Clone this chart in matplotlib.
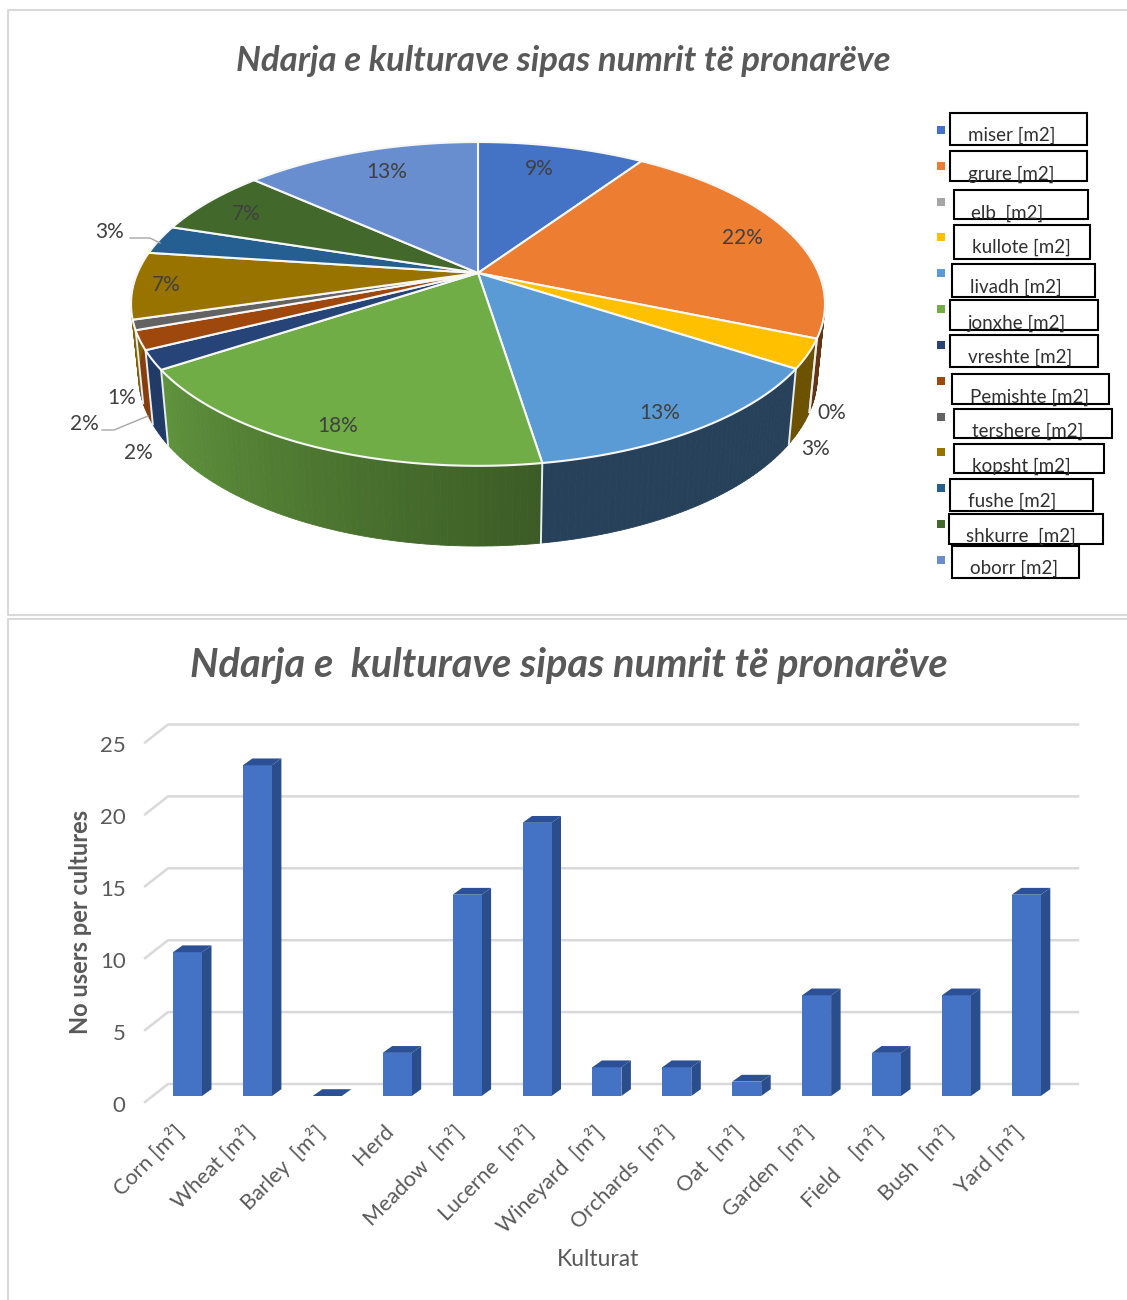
import numpy as np
import matplotlib
matplotlib.use('Agg')
import matplotlib.pyplot as plt
from matplotlib.patches import Rectangle
from matplotlib.transforms import ScaledTranslation

plt.rcParams['font.family'] = ['Lato', 'DejaVu Sans']

# top chart
pie_names = ['miser [m2]', 'grure [m2]', 'elb  [m2]', 'kullote [m2]', 'livadh [m2]', 'jonxhe [m2]', 'vreshte [m2]',
             'Pemishte [m2]', 'tershere [m2]', 'kopsht [m2]', 'fushe [m2]', 'shkurre  [m2]', 'oborr [m2]']
pie_values = [9.4, 22.0, 0.0, 2.9, 13.3, 18.1, 1.9, 1.9, 1.0, 6.7, 2.9, 6.7, 13.3]
pie_colors = ['#4472c4', '#ed7d31', '#a5a5a5', '#ffc000', '#5b9bd5', '#70ad47', '#264478',
              '#9e480e', '#636363', '#997300', '#255e91', '#43682b', '#698ed0']

# bottom chart
crops = ['Corn [m²]', 'Wheat [m²]', 'Barley  [m²]', 'Herd', 'Meadow  [m²]', 'Lucerne  [m²]', 'Wineyard  [m²]',
         'Orchards  [m²]', 'Oat  [m²]', 'Garden  [m²]', 'Field    [m²]', 'Bush  [m²]', 'Yard [m²]']
users = [10, 23, 0, 3, 14, 19, 2, 2, 1, 7, 3, 7, 14]
y_ticks = [0, 5, 10, 15, 20, 25]

# layout of the pie labels and the hand drawn legend boxes (pixels of the picture)
label_xy = [(539, 169), (742, 238), (832, 413), (816, 449), (660, 413), (338, 426), (138, 453),
            (84, 424), (122, 398), (166, 285), (110, 232), (246, 214), (387, 172)]
box_xy = [(950, 113, 1087, 145), (950, 151, 1087, 181), (954, 190, 1088, 219), (954, 225, 1090, 259),
          (952, 264, 1095, 297), (950, 300, 1098, 330), (950, 335, 1098, 367), (952, 374, 1109, 404),
          (954, 409, 1112, 438), (954, 444, 1104, 473), (950, 479, 1093, 511), (949, 514, 1103, 544),
          (952, 546, 1079, 578)]
text_xy = [(968, 141), (968, 180), (971, 219), (972, 253), (970, 293), (968, 329), (968, 363),
           (970, 403), (972, 437), (972, 472), (968, 507), (966, 542), (970, 574)]
GREY = '#595959'
DARK = '#404040'

fig = plt.figure(figsize=(11.27, 13), dpi=100)
page = fig.add_axes([0, 0, 1, 1])
page.set_xlim(0, 1127)
page.set_ylim(1300, 0)
page.axis('off')

# panel frames
page.plot([1127, 8, 8, 1127], [10, 10, 615, 615], color='#d9d9d9', lw=1.5)
page.plot([1127, 8, 8], [619, 619, 1300], color='#d9d9d9', lw=1.5)

page.text(563, 61, 'Ndarja e kulturave sipas numrit të pronarëve', ha='center', va='center',
          fontsize=25, fontweight='bold', fontstyle='italic', color=GREY)
page.text(569, 665, 'Ndarja e  kulturave sipas numrit të pronarëve', ha='center', va='center',
          fontsize=28.6, fontweight='bold', fontstyle='italic', color=GREY)


# perspective of the tilted pie
CX, CY, R, H, P = 478, 273, 340.6, 156, 0.191


def top_face(deg):
    t = np.radians(deg)
    w = 1 + P * np.cos(t)
    return CX + R * np.sin(t) / w, CY - H * np.cos(t) / w


def bottom_face(deg):
    x, y = top_face(deg)
    return CX + (x - CX) * 0.978, CY + (y - CY) * 1.053 + 70


def shade(color, f):
    return tuple(c * f for c in matplotlib.colors.to_rgb(color))


def side_factor(deg):
    if deg < 171.5:
        return 0.42
    return np.interp(deg, [171.5, 236.5], [0.53, 0.85])


edges = np.cumsum([0] + pie_values) / sum(pie_values) * 360

# side walls first
for a, b, col in zip(edges[:-1], edges[1:], pie_colors):
    lo, hi = max(a, 88), min(b, 272)
    if hi <= lo:
        continue
    steps = np.arange(lo, hi + 1, 1.0)
    steps[-1] = hi
    for s0, s1 in zip(steps[:-1], steps[1:]):
        x0, y0 = top_face(s0)
        x1, y1 = top_face(s1)
        x2, y2 = bottom_face(s1)
        x3, y3 = bottom_face(s0)
        c = shade(col, side_factor((s0 + s1) / 2))
        page.fill([x0, x1, x2, x3], [y0, y1, y2, y3], color=c, lw=0.6, zorder=2)
for e in edges:
    if 100 < e < 250:
        x0, y0 = top_face(e)
        x1, y1 = bottom_face(e)
        page.plot([x0, x1], [y0, y1], color='#e8eef0', lw=1.4, zorder=3)

# top of the pie
for a, b, col in zip(edges[:-1], edges[1:], pie_colors):
    if b <= a:
        continue
    ang = np.linspace(a, b, max(int(b - a) * 2, 2))
    xs, ys = top_face(ang)
    page.fill(np.r_[CX, xs], np.r_[CY, ys], facecolor=col, edgecolor='#f7f7f7', lw=1.5, zorder=4,
              joinstyle='round')

for (x, y), v in zip(label_xy, pie_values):
    page.text(x, y, f'{v:.0f}%', ha='center', va='center', fontsize=15, color=DARK, zorder=6)
page.plot([130, 150, 160], [238, 238, 243], color='#a6a6a6', lw=1, zorder=5)
page.plot([102, 114, 148], [430, 430, 416], color='#a6a6a6', lw=1, zorder=5)

# legend
for i, (name, col, box, txt) in enumerate(zip(pie_names, pie_colors, box_xy, text_xy)):
    my = 130 + i * 35.83
    page.add_patch(Rectangle((937, my - 4), 8, 8, color=col, lw=0))
    page.add_patch(Rectangle((box[0], box[1]), box[2] - box[0], box[3] - box[1], fc='white', ec='black', lw=1.5))
    page.text(txt[0], txt[1], name, ha='left', va='baseline', fontsize=13.5, color='#303030')

# bar chart, one axes with the value and category scales
X0, XSTEP, Y0, YSTEP = 187.5, 69.9, 1096, 14.38
x_lo, x_hi = (145 - X0) / XSTEP, (1078 - X0) / XSTEP
y_lo, y_hi = (Y0 - 1110) / YSTEP, (Y0 - 720) / YSTEP
ax = fig.add_axes([145 / 1127, 1 - 1110 / 1300, (1078 - 145) / 1127, (1110 - 720) / 1300])
ax.set_xlim(x_lo, x_hi)
ax.set_ylim(y_lo, y_hi)
ax.patch.set_alpha(0)
for sp in ax.spines.values():
    sp.set_visible(False)

front = -6 / YSTEP
back = 12 / YSTEP
wall = (168 - X0) / XSTEP
for v in y_ticks:
    ax.plot([x_lo, wall, x_hi], [v + front, v + back, v + back], color='#d9d9d9', lw=1.8, zorder=1,
            clip_on=False)

n = np.arange(len(users))
bw = 29 / XSTEP
dx, dy = 9.5 / XSTEP, 6.8 / YSTEP
ax.bar(n, users, width=bw, color='#4472c4', zorder=3)
for i, v in zip(n, users):
    l, r = i - bw / 2, i + bw / 2
    ax.fill([r, r + dx, r + dx, r], [0, dy, v + dy, v], color='#2a4d8c', lw=0, zorder=2)
    ax.fill([l, l + dx, r + dx, r], [v, v + dy, v + dy, v], color='#2b5095', lw=0, zorder=4)

ax.set_yticks(np.array(y_ticks) + front, [str(v) for v in y_ticks])
ax.set_xticks(n, crops)
ax.tick_params(axis='y', length=0, pad=14, labelsize=16, labelcolor=GREY)
ax.tick_params(axis='x', length=0, pad=8, labelsize=15.5, labelcolor=GREY)
for lab in ax.get_yticklabels():
    lab.set_transform(lab.get_transform() + ScaledTranslation(0, -0.02, fig.dpi_scale_trans))
shift = ScaledTranslation(-0.14, 0, fig.dpi_scale_trans)
for lab in ax.get_xticklabels():
    lab.set(rotation=45, ha='right', va='top', rotation_mode='anchor')
    lab.set_transform(lab.get_transform() + shift)

page.text(80, 922, 'No users per cultures', rotation=90, ha='center', va='center', fontsize=17,
          fontweight='bold', color=GREY)
page.text(598, 1259, 'Kulturat', ha='center', va='center', fontsize=16.5, color=GREY)

fig.savefig('out.png', dpi=100)
